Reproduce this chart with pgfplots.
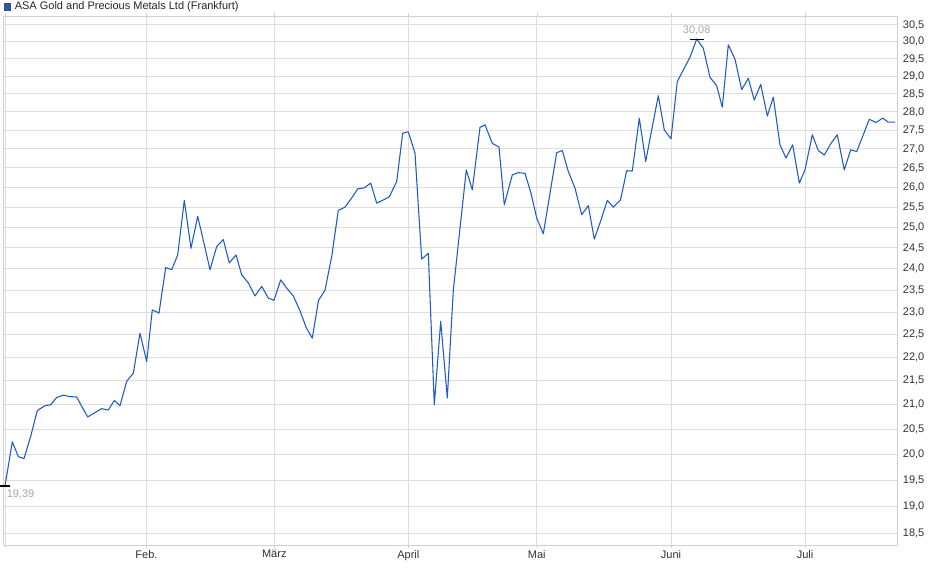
\documentclass[border=0pt]{standalone}
\usepackage{fontspec}
\setmainfont{Liberation Sans}
\usepackage{pgfplots}
\pgfplotsset{compat=1.18}

\definecolor{lineblue}{HTML}{1F5BC6}
\definecolor{gridgray}{HTML}{DDDDDD}
\definecolor{framegray}{HTML}{D0D0D0}
\definecolor{labgray}{HTML}{A8A8A8}
\definecolor{txt}{HTML}{333333}

\begin{document}
\begin{tikzpicture}
\fill[white] (0pt,0pt) rectangle (705pt,434.25pt);
% legend
\fill[lineblue] (3pt,426.75pt) rectangle (7.5pt,432pt);
\draw[black!70, line width=0.5pt] (3pt,426.75pt) rectangle (7.5pt,432pt);
\node[anchor=west, inner sep=0pt, text=black!85, font=\fontsize{8.25}{10}\selectfont] at (10.9pt,429.4pt) {ASA Gold and Precious Metals Ltd (Frankfurt)};

\begin{axis}[
  at={(2.25pt,25.5pt)}, anchor=south west,
  width=670.5pt, height=396.75pt, scale only axis,
  xmin=3, xmax=897,
  ymode=log, ymin=18.30, ymax=30.77,
  axis line style={framegray},
  xtick={5,146.5,274.3,408.3,536.7,671,805},
  xticklabels={,Feb.,März,April,Mai,Juni,Juli},
  ytick={18.5,19,19.5,20,20.5,21,21.5,22,22.5,23,23.5,24,24.5,25,25.5,26,26.5,27,27.5,28,28.5,29,29.5,30,30.5},
  yticklabels={{18,5},{19,0},{19,5},{20,0},{20,5},{21,0},{21,5},{22,0},{22,5},{23,0},{23,5},{24,0},{24,5},{25,0},{25,5},{26,0},{26,5},{27,0},{27,5},{28,0},{28,5},{29,0},{29,5},{30,0},{30,5}},
  yticklabel pos=right,
  grid=major,
  major grid style={gridgray, line width=0.75pt},
  tick align=outside,
  major tick length=2.25pt,
  xtick style={draw=framegray},
  ytick style={draw=none},
  ticklabel style={font=\fontsize{8.25}{10}\selectfont, text=txt},
  yticklabel style={anchor=west, inner sep=0pt, xshift=2pt},
  xticklabel style={anchor=north, inner sep=0pt, yshift=-1.5pt},
  clip=false,
]
\addplot[lineblue, line width=0.8pt, line join=round] coordinates {
(5,19.39) (12.3,20.25) (18.3,19.96) (24,19.92) (30.7,20.36) (37.3,20.88)
(45,20.98) (50.7,21.00) (56.7,21.15) (63.3,21.20) (69.3,21.17) (76.7,21.16)
(82.7,20.93) (87.7,20.75) (94.3,20.83) (101.7,20.92) (108.3,20.89) (114.3,21.09)
(120,20.98) (126.7,21.49) (133.3,21.66) (140,22.53) (146.7,21.91) (152.3,23.05)
(159,22.98) (165.7,24.03) (171.7,23.98) (177.7,24.33) (184.3,25.67) (191,24.49)
(197.7,25.27) (204,24.61) (210,23.98) (216.7,24.53) (223.3,24.70) (229.3,24.14)
(236,24.33) (241.7,23.86) (248.3,23.67) (255,23.37) (261.7,23.59) (268.3,23.32)
(274,23.27) (280.7,23.74) (286.7,23.55) (293.3,23.37) (300,23.03) (306.3,22.65)
(312.3,22.42) (318.5,23.27) (325,23.50) (331.7,24.29) (338.3,25.42) (345,25.50)
(351.7,25.73) (357.7,25.96) (364.3,25.99) (370.7,26.11) (376.7,25.60) (383.3,25.68)
(389.3,25.76) (396.7,26.15) (402.7,27.42) (408.3,27.46) (415,26.89) (421.7,24.23)
(428.3,24.37) (434.3,21.00) (440.7,22.79) (447.3,21.14) (453.3,23.50) (466.3,26.45)
(472.3,25.94) (480,27.58) (485,27.65) (492.3,27.15) (499,27.05) (504.3,25.56)
(512.3,26.32) (518.3,26.38) (525,26.36) (531,25.85) (536.7,25.23) (543.3,24.84)
(550,25.85) (556.7,26.90) (562.3,26.96) (568.3,26.41) (575,25.98) (581.7,25.31)
(588.3,25.54) (594.3,24.71) (601,25.18) (607.3,25.67) (613.3,25.50) (620.5,25.68)
(626.7,26.43) (632.3,26.42) (639.3,27.83) (645.7,26.67) (651.7,27.51) (658.3,28.45)
(664.3,27.51) (671,27.27) (677.3,28.85) (683.3,29.18) (690,29.55) (696.7,30.08)
(703.3,29.81) (710,28.97) (716.7,28.73) (722.3,28.13) (728.3,29.91) (735,29.49)
(741.7,28.62) (748.3,28.94) (754.3,28.33) (760.7,28.77) (767.3,27.89) (773.3,28.41)
(780,27.11) (786,26.76) (792.7,27.11) (799.3,26.11) (805,26.45) (812.3,27.38)
(818.3,26.96) (824.3,26.84) (831,27.15) (837.3,27.38) (844.3,26.45) (850.7,26.98)
(856.7,26.93) (863.3,27.38) (869.3,27.80) (876,27.71) (882.7,27.83) (888.3,27.72)
(895,27.72)
};
% low and high markers
\addplot[only marks, mark=-, mark size=3.75pt, mark options={line width=0.8pt, black}] coordinates {(5,19.39)};
\addplot[only marks, mark=-, mark size=5.25pt, mark options={line width=0.8pt, black}] coordinates {(696.7,30.08)};
\node[anchor=north west, inner sep=0pt, text=labgray, font=\fontsize{8.25}{10}\selectfont] at (axis cs:6.5,19.39) [yshift=-3pt] {19,39};
\node[anchor=south, inner sep=0pt, text=labgray, font=\fontsize{8.25}{10}\selectfont] at (axis cs:696.7,30.08) [yshift=3pt] {30,08};
\end{axis}
\end{tikzpicture}
\end{document}
